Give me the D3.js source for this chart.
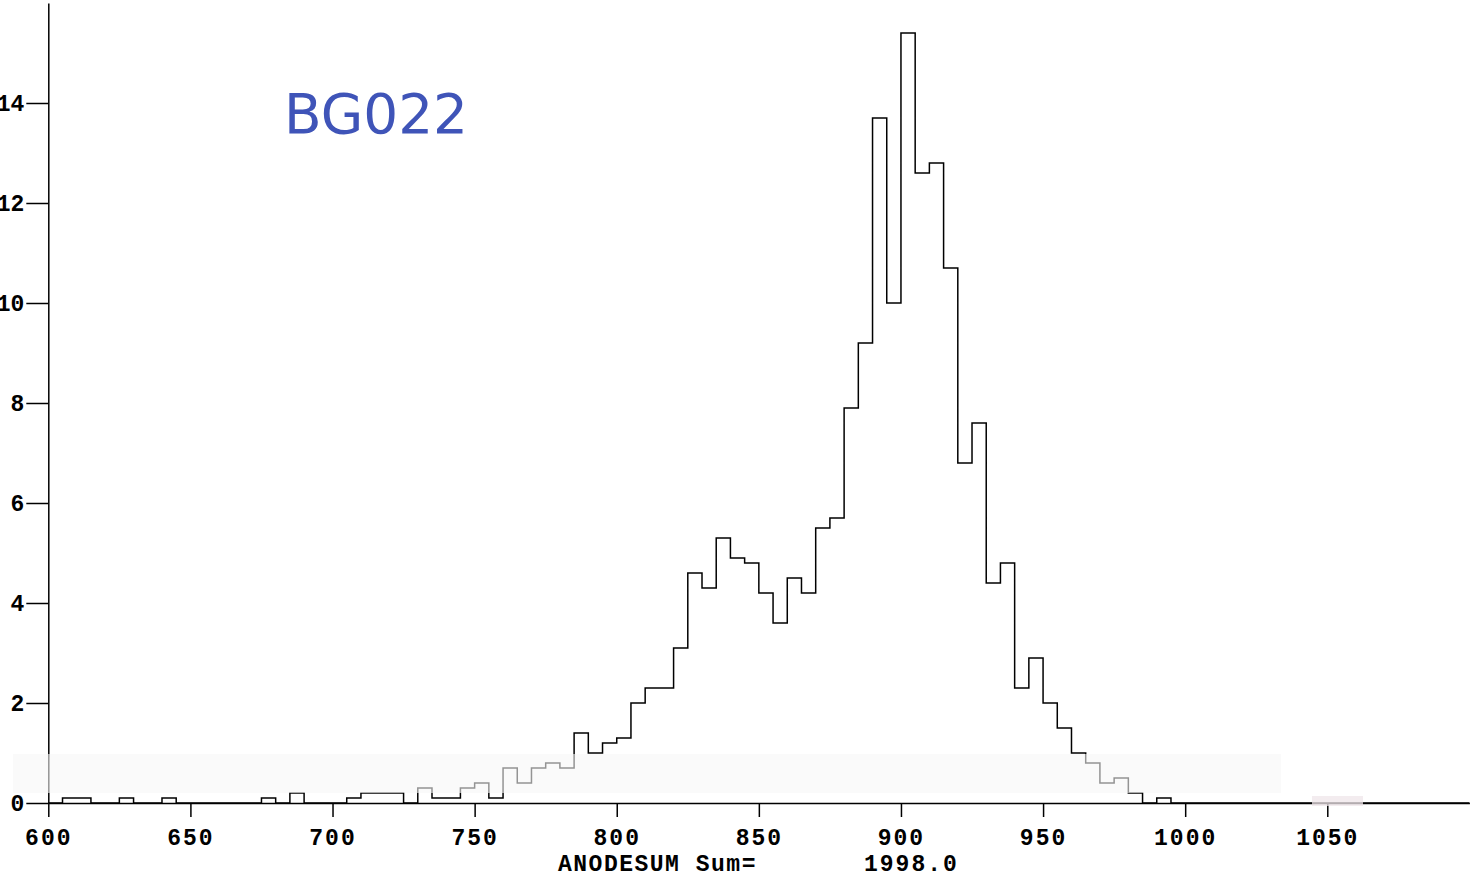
<!DOCTYPE html>
<html>
<head>
<meta charset="utf-8">
<script src="https://cdn.jsdelivr.net/npm/d3@7"></script>
<style>
  html, body { margin: 0; padding: 0; background: #ffffff; }
  svg { display: block; }
</style>
</head>
<body>
<svg id="chart" width="1470" height="877"></svg>
<script>
// ---- data ----
const binStart = 600;
const binWidth = 5;
// histogram heights, one per 5-unit bin starting at 600
const binValues = [
  0.0, 0.1, 0.1, 0.0, 0.0, 0.1, 0.0, 0.0, 0.1, 0.0,   // 600-650
  0.0, 0.0, 0.0, 0.0, 0.0, 0.1, 0.0, 0.2, 0.0, 0.0,   // 650-700
  0.0, 0.1, 0.2, 0.2, 0.2, 0.0, 0.3, 0.1, 0.1, 0.3,   // 700-750
  0.4, 0.1, 0.7, 0.4, 0.7, 0.8, 0.7, 1.4, 1.0, 1.2,   // 750-800
  1.3, 2.0, 2.3, 2.3, 3.1, 4.6, 4.3, 5.3, 4.9, 4.8,   // 800-850
  4.2, 3.6, 4.5, 4.2, 5.5, 5.7, 7.9, 9.2, 13.7, 10.0, // 850-900
  15.4, 12.6, 12.8, 10.7, 6.8, 7.6, 4.4, 4.8, 2.3, 2.9, // 900-950
  2.0, 1.5, 1.0, 0.8, 0.4, 0.5, 0.2, 0.0, 0.1, 0.0,   // 950-1000
  0.0, 0.0, 0.0, 0.0, 0.0, 0.0, 0.0, 0.0, 0.0, 0.0,   // 1000-1050
  0.0, 0.0, 0.0, 0.0, 0.0, 0.0, 0.0, 0.0, 0.0, 0.0    // 1050-1100
];
const xMajorTicks = [600, 650, 700, 750, 800, 850, 900, 950, 1000, 1050];
const xTickLabels = ["600", "650", "700", "750", "800", "850", "900", "950", "1000", "1050"];
const yMajorTicks = [0, 2, 4, 6, 8, 10, 12, 14];
const yTickLabels = ["0", "2", "4", "6", "8", "10", "12", "14"];
const xTitle = "ANODESUM Sum=";
const sumLabel = "1998.0";
const annotation = "BG022";

// ---- scales ----
const svg = d3.select("#chart");
const x = d3.scaleLinear().domain([600, 1100]).range([48.3, 1469.4]);
const y = d3.scaleLinear().domain([0, 16]).range([803, 3]);

const xMinor = d3.range(600, 1101, 10).filter(v => v % 50 !== 0);
const yMinor = d3.range(0, 16, 0.5).filter(v => v % 2 !== 0);

const tickFont = "'Liberation Mono', 'DejaVu Sans Mono', monospace";

// ---- x axis ----
const gx = svg.append("g").attr("transform", `translate(0,${y(0)})`);
gx.call(d3.axisBottom(x).tickValues(xMinor).tickSize(6).tickSizeOuter(0).tickFormat(""));
gx.call(d3.axisBottom(x).tickValues(xMajorTicks).tickSize(14).tickSizeOuter(0)
  .tickPadding(12).tickFormat((d, i) => xTickLabels[i]));
gx.selectAll("path, line").attr("stroke", "#000").attr("stroke-width", 1.5);
gx.selectAll("text")
  .attr("fill", "#000")
  .style("font-family", tickFont)
  .style("font-weight", "bold")
  .style("font-size", "23px")
  .style("letter-spacing", "2px");

// ---- y axis ----
const gy = svg.append("g").attr("transform", `translate(${x(600)},0)`);
gy.call(d3.axisLeft(y).tickValues(yMinor).tickSize(11).tickSizeOuter(0).tickFormat(""));
gy.call(d3.axisLeft(y).tickValues(yMajorTicks).tickSize(22).tickSizeOuter(0)
  .tickPadding(2).tickFormat((d, i) => yTickLabels[i]));
gy.selectAll("path, line").attr("stroke", "#000").attr("stroke-width", 1.5);
gy.selectAll("text")
  .attr("fill", "#000")
  .style("font-family", tickFont)
  .style("font-weight", "bold")
  .style("font-size", "23px");

// ---- histogram outline ----
const pts = [[binStart, 0]];
binValues.forEach((v, i) => {
  const x0 = binStart + i * binWidth;
  pts.push([x0, v]);
  pts.push([x0 + binWidth, v]);
});
pts.push([binStart + binValues.length * binWidth, 0]);
const line = d3.line().x(d => x(d[0])).y(d => y(d[1]));
svg.append("path")
  .datum(pts)
  .attr("d", line)
  .attr("fill", "none")
  .attr("stroke", "#000")
  .attr("stroke-width", 1.5);

// ---- faint scan band (lightens what lies under it) ----
svg.append("rect")
  .attr("x", 13).attr("y", 754).attr("width", 1268).attr("height", 39)
  .attr("fill", "#f7f7f7").attr("opacity", 0.6);
svg.append("rect")
  .attr("x", 1312).attr("y", 796).attr("width", 51).attr("height", 10)
  .attr("fill", "#efe6e9").attr("opacity", 0.75);

// ---- axis title ----
svg.append("text")
  .attr("x", 558).attr("y", 871)
  .style("font-family", tickFont)
  .style("font-weight", "bold")
  .style("font-size", "23px")
  .style("letter-spacing", "1.5px")
  .attr("fill", "#000")
  .text(xTitle);
svg.append("text")
  .attr("x", 864).attr("y", 871)
  .style("font-family", tickFont)
  .style("font-weight", "bold")
  .style("font-size", "23px")
  .style("letter-spacing", "2px")
  .attr("fill", "#000")
  .text(sumLabel);

// ---- handwritten annotation ----
svg.append("text")
  .attr("x", 284).attr("y", 133)
  .attr("textLength", 184)
  .attr("lengthAdjust", "spacingAndGlyphs")
  .style("font-family", "'DejaVu Sans', sans-serif")
  .style("font-size", "56px")
  .style("font-weight", "normal")
  .attr("fill", "#3f54b8")
  .text(annotation);
</script>
</body>
</html>
